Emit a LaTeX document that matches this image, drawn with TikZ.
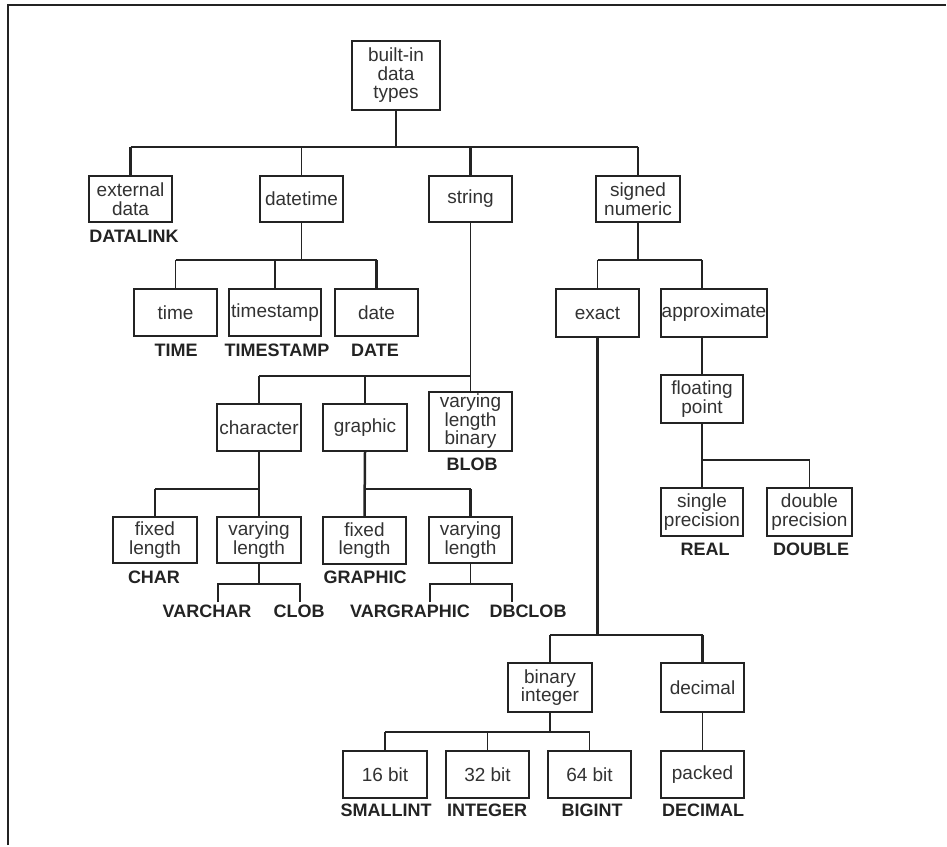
\documentclass[tikz,border=0pt]{standalone}
\usepackage{fontspec}
\setmainfont{Liberation Sans}
\definecolor{ink}{RGB}{35,35,35}
\definecolor{txt}{RGB}{50,50,50}
\begin{document}
\begin{tikzpicture}[x=1pt,y=-1pt,
  box/.style={draw=ink, line width=1.4pt, inner sep=0pt, align=center,
    font=\fontsize{19}{18.5}\selectfont, text=txt},
  hbox/.style={box, line width=2.4pt},
  sz/.style 2 args={minimum width=#1pt, minimum height=#2pt},
  lab/.style={inner sep=0pt, font=\fontsize{18}{18}\selectfont\bfseries, text=ink},
  ln/.style={draw=ink, line width=1.3pt},
  lnb/.style={draw=ink, line width=2.5pt}]
\useasboundingbox (0,0) rectangle (947,846);
\fill[white] (0,0) rectangle (947,846);

% page frame (top and left rules)
\draw[ink, line width=1.7pt] (8,845) -- (8,5) -- (946,5);

% ---- boxes ----
\node[hbox, sz={88}{69}] (root) at (396,75.5) {built-in\\data\\types};

\node[hbox, sz={83}{46}] (ext) at (130.5,199) {external\\data};
\node[box,  sz={83}{46}] (dt)  at (301.5,199) {datetime};
\node[box,  sz={83}{46}] (str) at (470.5,199) {string};
\node[hbox, sz={84}{46}] (sn)  at (638,199)   {signed\\numeric};

\node[hbox, sz={83}{47}] (tm) at (175.5,312.5) {time};
\node[box,  sz={92}{47}] (ts) at (275,312.5)   {timestamp};
\node[hbox, sz={83}{47}] (dd) at (376.5,312.5) {date};

\node[box,  sz={84}{47}] (ch)  at (259,427.5)   {character};
\node[hbox, sz={84}{47}] (gr)  at (365,427.5)   {graphic};
\node[box,  sz={83}{59}] (vlb) at (470.5,421.5) {varying\\length\\binary};

\node[hbox, sz={84}{46}] (fl1) at (155,540)   {fixed\\length};
\node[box,  sz={84}{46}] (vlc) at (259,540)   {varying\\length};
\node[hbox, sz={83}{47}] (fl2) at (364.5,540.5) {fixed\\length};
\node[hbox, sz={83}{46}] (vlg) at (470.5,540) {varying\\length};

\node[hbox, sz={83}{48}]  (ex) at (597.5,313) {exact};
\node[box,  sz={106}{48}] (ap) at (714,313)   {approximate};
\node[box,  sz={82}{48}]  (fp) at (702,399)   {floating\\point};
\node[box,  sz={82}{48}]  (sp) at (702,512)   {single\\precision};
\node[hbox, sz={85}{48}]  (dp) at (809.5,512) {double\\precision};

\node[hbox, sz={84}{49}] (bi) at (550,687.5)   {binary\\integer};
\node[hbox, sz={83}{49}] (dc) at (702.5,687.5) {decimal};
\node[hbox, sz={84}{47}] (b16) at (385,774.5)  {16 bit};
\node[box,  sz={83}{47}] (b32) at (487.5,774.5) {32 bit};
\node[box,  sz={83}{47}] (b64) at (589.5,774.5) {64 bit};
\node[box,  sz={83}{47}] (pk)  at (702.5,774.5) {packed};

% ---- SQL type names ----
\node[lab] (lDL)  at (134,236) {DATALINK};
\node[lab] (lTM)  at (176,350) {TIME};
\node[lab] (lTS)  at (277,350) {TIMESTAMP};
\node[lab] (lDT)  at (375,350) {DATE};
\node[lab] (lBL)  at (472,464) {BLOB};
\node[lab] (lCH)  at (154,577) {CHAR};
\node[lab] (lGR)  at (365,577) {GRAPHIC};
\node[lab] (lVC)  at (207,611) {VARCHAR};
\node[lab] (lCL)  at (299,611) {CLOB};
\node[lab] (lVG)  at (410,611) {VARGRAPHIC};
\node[lab] (lDB)  at (528,611) {DBCLOB};
\node[lab] (lRE)  at (705,549) {REAL};
\node[lab] (lDO)  at (811,549) {DOUBLE};
\node[lab] (lSI)  at (386,810) {SMALLINT};
\node[lab] (lIN)  at (487,810) {INTEGER};
\node[lab] (lBI)  at (592,810) {BIGINT};
\node[lab] (lDE)  at (703,810) {DECIMAL};

% ---- bar heights ----
\coordinate (b0) at (0,147);
\coordinate (b1) at (0,260);
\coordinate (b2) at (0,376);
\coordinate (b3) at (0,489);
\coordinate (b4) at (0,584);
\coordinate (b6) at (0,460);
\coordinate (b7) at (0,635);
\coordinate (b8) at (0,732);

% ---- top level ----
\draw[ln]  (root.south) -- (root.south |- b0);
\draw[ln]  (ext.north |- b0) -- (sn.north |- b0);
\draw[lnb] (ext.north |- b0) -- (ext.north);
\draw[ln]  (dt.north |- b0) -- (dt.north);
\draw[lnb] (str.north |- b0) -- (str.north);
\draw[ln]  (sn.north |- b0) -- (sn.north);

% ---- datetime ----
\draw[ln]  (dt.south) -- (dt.south |- b1);
\draw[lnb] (tm.north |- b1) -- (dd.north |- b1);
\draw[ln]  (tm.north |- b1) -- (tm.north);
\draw[lnb] (ts.north |- b1) -- (ts.north);
\draw[lnb] (dd.north |- b1) -- (dd.north);

% ---- string ----
\draw[ln]  (str.south) -- (vlb.north);
\draw[ln]  (ch.north |- b2) -- (vlb.north |- b2);
\draw[lnb] (ch.north |- b2) -- (ch.north);
\draw[lnb] (gr.north |- b2) -- (gr.north);

% character
\draw[lnb] (ch.south) -- (vlc.north);
\draw[lnb] (fl1.north |- b3) -- (vlc.north |- b3);
\draw[lnb] (fl1.north |- b3) -- (fl1.north);
\coordinate (vc1) at (218,602);
\coordinate (vc2) at (300,602);
\draw[ln]  (vlc.south) -- (vlc.south |- b4);
\draw[lnb] (vc1) -- (vc1 |- b4) -- (vc2 |- b4) -- (vc2);

% graphic
\draw[lnb] (gr.south) -- (fl2.north);
\draw[ln]  (fl2.north |- b3) -- (vlg.north |- b3);
\draw[lnb] (vlg.north |- b3) -- (vlg.north);
\coordinate (vg1) at (430,602);
\coordinate (vg2) at (512,602);
\draw[ln]  (vlg.south) -- (vlg.south |- b4);
\draw[ln]  (vg1) -- (vg1 |- b4) -- (vg2 |- b4) -- (vg2);

% ---- signed numeric ----
\draw[lnb] (sn.south) -- (sn.south |- b1);
\draw[lnb] (ex.north |- b1) -- (fp.north |- b1);
\draw[ln]  (ex.north |- b1) -- (ex.north);
\draw[ln]  (fp.north |- b1) -- (fp.north |- ap.north);
\draw[ln]  (fp.north |- ap.south) -- (fp.north);

% floating point
\draw[lnb] (fp.south) -- (sp.north);
\draw[ln]  (fp.south |- b6) -- (dp.north |- b6) -- (dp.north);

% exact
\draw[lnb] (ex.south) -- (ex.south |- b7);
\draw[ln]  (bi.north |- b7) -- (dc.north |- b7);
\draw[ln]  (bi.north |- b7) -- (bi.north);
\draw[lnb] (dc.north |- b7) -- (dc.north);

% binary integer
\draw[ln]  (bi.south) -- (bi.south |- b8);
\draw[lnb] (b16.north |- b8) -- (b64.north |- b8);
\draw[ln]  (b16.north |- b8) -- (b16.north);
\draw[ln]  (b32.north |- b8) -- (b32.north);
\draw[ln]  (b64.north |- b8) -- (b64.north);

% decimal
\draw[ln]  (dc.south) -- (pk.north);
\end{tikzpicture}
\end{document}
